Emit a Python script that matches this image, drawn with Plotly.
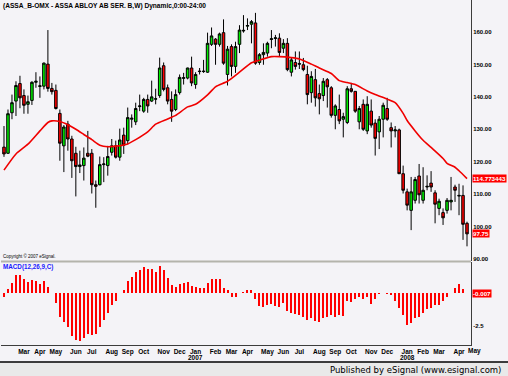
import pandas as pd
import plotly.graph_objects as go
from plotly.subplots import make_subplots

# ---------------- data ----------------
week_dates = pd.date_range("2006-01-30", periods=117, freq="7D")

opens = [124.5, 122.6, 135.1, 138.7, 144.1, 140.4, 137.7, 138.9, 144.5, 143.2,
         143.3, 150.1, 142.6, 142.0, 134.9, 124.9, 131.6, 127.0, 122.6, 118.5,
         118.8, 122.6, 122.6, 112.9, 112.9, 119.1, 118.8, 122.9, 124.9, 121.4,
         128.2, 126.5, 133.1, 132.3, 137.0, 135.6, 139.2, 138.7, 139.3, 140.4,
         149.6, 142.8, 139.2, 136.1, 141.3, 145.7, 145.8, 148.9, 143.8, 147.8,
         147.8, 147.6, 156.2, 157.8, 156.2, 159.8, 146.9, 155.5, 149.4, 156.2,
         160.3, 161.8, 162.4, 162.8, 150.6, 153.0, 153.5, 157.7, 158.0, 158.1,
         155.0, 156.5, 147.6, 150.6, 150.3, 149.9, 146.9, 141.3, 145.3, 141.0,
         140.4, 145.3, 142.8, 134.3, 136.1, 133.1, 132.1, 142.5, 141.7, 132.3,
         137.7, 129.5, 135.6, 131.9, 129.2, 133.1, 136.4, 130.5, 129.5, 129.8,
         116.3, 110.7, 105.0, 108.1, 115.6, 108.1, 112.2, 113.4, 110.4, 105.6,
         104.3, 105.0, 107.6, 112.2, 109.4, 109.6, 101.0]
highs = [131.0, 136.1, 140.7, 144.8, 146.5, 142.3, 140.4, 144.8, 147.6, 146.3,
         150.6, 160.6, 144.3, 143.8, 136.1, 131.3, 132.6, 128.0, 124.6, 123.4,
         124.4, 129.5, 123.9, 114.2, 121.6, 121.4, 124.9, 127.0, 126.5, 130.2,
         130.5, 136.7, 134.6, 138.2, 140.7, 139.7, 140.7, 145.0, 142.5, 152.1,
         150.6, 143.8, 141.7, 142.3, 146.9, 147.4, 149.0, 152.4, 147.6, 148.9,
         151.4, 159.8, 161.4, 158.1, 159.8, 163.9, 155.7, 156.2, 157.0, 162.1,
         165.2, 164.2, 163.7, 165.9, 153.5, 156.5, 157.0, 160.6, 159.1, 159.6,
         157.8, 158.1, 152.0, 154.0, 154.0, 152.0, 149.6, 147.9, 148.6, 143.8,
         145.8, 145.8, 143.3, 137.7, 140.7, 135.1, 143.3, 144.3, 141.7, 137.2,
         139.2, 140.2, 139.2, 133.1, 134.1, 138.2, 139.7, 132.1, 131.0, 130.2,
         118.8, 111.7, 115.3, 115.3, 119.3, 118.3, 115.8, 117.1, 111.2, 108.6,
         105.6, 108.8, 115.3, 112.9, 113.2, 112.7, 101.5]
lows = [121.5, 122.4, 133.1, 134.1, 136.5, 134.8, 134.8, 137.5, 142.8, 139.7,
        142.3, 141.6, 140.7, 136.1, 120.3, 116.8, 123.4, 115.0, 109.3, 116.5,
        114.2, 121.4, 110.2, 105.8, 112.7, 113.7, 115.7, 121.9, 121.0, 120.3,
        122.4, 125.4, 130.5, 131.3, 135.6, 135.1, 135.1, 138.4, 137.7, 139.7,
        141.7, 137.7, 132.3, 135.6, 140.7, 143.8, 145.4, 143.3, 142.5, 146.9,
        147.4, 147.4, 155.7, 149.9, 155.5, 149.9, 143.5, 146.3, 147.4, 153.5,
        159.8, 160.6, 156.5, 149.9, 149.9, 149.9, 152.4, 155.0, 155.5, 152.4,
        153.5, 147.9, 146.3, 148.4, 148.6, 147.9, 137.7, 138.2, 137.0, 134.6,
        138.7, 136.7, 133.6, 130.0, 131.6, 127.5, 131.6, 141.3, 135.1, 130.0,
        129.5, 128.5, 130.5, 121.9, 123.9, 127.5, 132.6, 124.4, 127.5, 116.3,
        110.2, 105.0, 98.9, 107.1, 107.1, 107.1, 111.2, 110.7, 101.0, 103.5,
        100.5, 104.0, 105.0, 107.6, 103.5, 95.9, 93.9]
closes = [122.4, 134.8, 138.2, 143.5, 139.7, 137.4, 138.5, 144.5, 144.8, 143.4,
          150.4, 142.6, 141.6, 136.4, 125.7, 130.7, 127.0, 120.3, 118.5, 119.0,
          121.1, 121.7, 112.9, 112.4, 119.1, 119.3, 121.6, 124.9, 121.4, 126.7,
          125.1, 133.6, 133.4, 136.4, 137.2, 139.2, 137.2, 140.0, 139.4, 148.9,
          142.3, 138.7, 135.6, 140.7, 146.0, 145.9, 148.9, 144.3, 146.9, 147.9,
          147.9, 156.5, 158.8, 156.2, 159.4, 150.4, 154.7, 149.4, 155.5, 160.6,
          160.5, 162.0, 163.2, 150.4, 153.0, 153.7, 156.5, 157.9, 158.2, 153.7,
          156.5, 148.4, 151.4, 149.4, 150.1, 148.4, 140.7, 146.3, 139.7, 139.4,
          144.8, 143.1, 134.3, 137.2, 132.6, 133.9, 142.5, 141.7, 135.6, 136.4,
          130.0, 137.7, 131.3, 127.2, 133.1, 137.4, 133.1, 129.5, 129.8, 116.3,
          111.2, 106.6, 110.7, 114.5, 109.8, 111.2, 112.4, 112.2, 106.9, 107.8,
          102.7, 108.1, 108.1, 111.2, 109.6, 100.7, 97.75]

# moving average at selected weekly bars
ma_bar_index = [0, 3, 6, 9, 11, 12, 14, 16, 18, 20, 22, 24, 26, 28, 31, 33, 36, 38,
                41, 43, 46, 48, 51, 53, 56, 59, 62, 64, 67, 69, 72, 74, 77, 79, 82,
                84, 86, 88, 91, 93, 96, 98, 100, 101, 103, 105, 107, 110, 111, 113,
                114, 116]
ma_values = [117.4, 122.4, 125.4, 129.5, 132.1, 132.6, 132.4, 131.4, 130.0, 128.4,
             126.8, 125.1, 124.6, 124.8, 125.5, 126.8, 129.2, 131.6, 133.2, 134.3,
             136.9, 137.7, 140.6, 143.1, 144.8, 147.6, 150.5, 151.3, 152.4, 152.4,
             152.1, 151.7, 150.1, 148.9, 147.2, 145.0, 144.4, 143.8, 141.8, 140.7,
             139.3, 138.2, 134.9, 132.7, 129.5, 126.6, 124.4, 121.0, 119.5, 118.3,
             117.2, 114.773443]

macd_hist = [-0.26, 0.3, 0.8, 1.4, 1.4, 1.1, 0.85, 1.0, 0.95, 0.75,
             0.95, 0.46, 0.05, -0.72, -1.8, -2.18, -2.56, -3.28, -3.59, -3.64,
             -3.46, -3.13, -3.2, -3.1, -2.56, -2.05, -1.49, -0.9, -0.6, 0.05,
             0.25, 0.95, 1.28, 1.67, 1.8, 2.0, 1.85, 1.85, 1.67, 2.13,
             1.8, 1.2, 0.64, 0.51, 0.72, 0.77, 0.9, 0.56, 0.51, 0.44,
             0.38, 0.82, 1.1, 1.08, 1.1, 0.44, 0.26, -0.3, -0.3, 0.05,
             0.13, 0.26, 0.26, -0.46, -0.97, -1.03, -0.9, -0.82, -0.97, -1.03,
             -0.77, -1.36, -1.54, -1.62, -1.67, -1.8, -2.05, -1.92, -2.13, -2.18,
             -1.92, -1.8, -1.67, -1.8, -1.67, -1.74, -0.56, -0.64, -0.46, -0.26,
             -0.46, -0.31, -0.82, -0.46, -0.05, 0.03, -0.03, -0.1, -0.6, -1.1,
             -1.67, -2.44, -2.26, -1.92, -1.8, -1.54, -1.2, -1.1, -0.9, -0.9,
             -0.6, -0.3, 0.02, 0.44, 0.72, 0.3, -0.007]

tick_months = ["2006-03", "2006-04", "2006-05", "2006-06", "2006-07", "2006-08",
               "2006-09", "2006-10", "2006-11", "2006-12", "2007-01", "2007-02",
               "2007-03", "2007-04", "2007-05", "2007-06", "2007-07", "2007-08",
               "2007-09", "2007-10", "2007-11", "2007-12", "2008-01", "2008-02",
               "2008-03", "2008-04"]
extra_month = "2008-05"
price_ticks = [90, 100, 110, 120, 130, 140, 150, 160]
macd_ticks = [-2.5]

TITLE = "(ASSA_B-OMX - ASSA ABLOY AB SER. B,W) Dynamic,0:00-24:00"
MACD_TITLE = "MACD(12,26,9,C)"
COPYRIGHT = "Copyright © 2007 eSignal."
FOOTER = "Published by eSignal (www.esignal.com)"

# ---------------- styling ----------------
W, H = 508, 376
ML, MR, MT, MB = 1, 37, 0, 31
PW, PH = W - ML - MR, H - MT - MB
BG = "#F4F3F7"
AXIS = "#3C3C3C"
LBL_FONT = "Liberation Sans, Arial, sans-serif"

def py(pix):  # pixel row (from top of figure) -> paper y
    return (PH + MT - pix) / PH

def px(pix):
    return (pix - ML) / PW

week = pd.Timedelta(days=7)
x0 = week_dates[0] - week * 0.75
x1 = week_dates[-1] + week

def first_bar_of(month):
    m = pd.Period(month, "M")
    for d in week_dates:
        if d.to_period("M") == m:
            return d
    return m.start_time + pd.Timedelta(days=(7 - m.start_time.weekday()) % 7)

tick_vals = [first_bar_of(m) for m in tick_months]
tick_text = ["<b>%s</b>" % pd.Period(m, "M").strftime("%b") for m in tick_months]

fig = make_subplots(rows=2, cols=1, shared_xaxes=True, vertical_spacing=0.0)

fig.add_trace(go.Candlestick(
    x=week_dates, open=opens, high=highs, low=lows, close=closes,
    increasing=dict(fillcolor="#00EE00", line=dict(color="#000000", width=1)),
    decreasing=dict(fillcolor="#FF0000", line=dict(color="#000000", width=1)),
    whiskerwidth=0, showlegend=False, hoverinfo="skip"), row=1, col=1)

fig.add_trace(go.Scatter(
    x=[week_dates[i] for i in ma_bar_index], y=ma_values, mode="lines",
    line=dict(color="#F00000", width=1.6, shape="spline", smoothing=0.6),
    showlegend=False, hoverinfo="skip"), row=1, col=1)

fig.add_trace(go.Bar(
    x=week_dates, y=macd_hist, marker=dict(color="#FF0000", line=dict(width=0)),
    width=3.5 * 86400000, showlegend=False, hoverinfo="skip"), row=2, col=1)

top_split = py(261)
bot_split = py(262)

TF = dict(family=LBL_FONT, size=6, color="#000000")

fig.update_layout(
    width=W, height=H,
    margin=dict(l=ML, r=MR, t=MT, b=MB, pad=0, autoexpand=False),
    paper_bgcolor=BG, plot_bgcolor=BG, showlegend=False, bargap=0, boxgap=0.1,
    font=dict(family=LBL_FONT, size=7, color="#000000"),
    xaxis=dict(domain=[0, 1], range=[x0, x1], type="date", showticklabels=False,
               showgrid=False, zeroline=False, rangeslider=dict(visible=False),
               showline=False, ticks="", automargin=False),
    xaxis2=dict(domain=[0, 1], range=[x0, x1], type="date", showgrid=False,
                zeroline=False, showline=True, linecolor=AXIS, linewidth=1,
                tickmode="array", tickvals=tick_vals, ticktext=tick_text,
                tickfont=dict(family=LBL_FONT, size=6.5, color="#000000"),
                ticks="", tickangle=0, automargin=False),
    yaxis=dict(domain=[top_split, 1], range=[89.38, 169.87], side="right",
               showgrid=False, zeroline=False, showline=True, linecolor=AXIS,
               tickmode="array", tickvals=price_ticks,
               ticktext=["<b>%.2f</b>" % v for v in price_ticks],
               tickfont=TF, ticks="", automargin=False),
    yaxis2=dict(domain=[0, bot_split], range=[-3.98, 2.41], side="right",
                showgrid=False, zeroline=False, showline=True, linecolor=AXIS,
                tickmode="array", tickvals=macd_ticks,
                ticktext=["<b>%g</b>" % v for v in macd_ticks],
                tickfont=TF, ticks="", automargin=False),
)

shapes = [
    # panel separator
    dict(type="line", xref="paper", yref="paper", x0=0, x1=1,
         y0=py(261.5), y1=py(261.5), line=dict(color="#B4B4AC", width=2)),
    # footer band
    dict(type="rect", xref="paper", yref="paper", x0=px(0), x1=px(W),
         y0=py(H), y1=py(362), fillcolor="#E9E9E9", line=dict(width=0), layer="below"),
    dict(type="line", xref="paper", yref="paper", x0=px(0), x1=px(W),
         y0=py(362), y1=py(362), line=dict(color="#000000", width=1.5)),
]
fig.update_layout(shapes=shapes)

ann = []
ann.append(dict(text="<b>%s</b>" % TITLE, xref="paper", yref="paper", x=px(1), y=py(6),
                xanchor="left", yanchor="middle", showarrow=False,
                font=dict(family=LBL_FONT, size=6.6, color="#000000")))
ann.append(dict(text=COPYRIGHT, xref="paper", yref="paper", x=px(1), y=py(256),
                xanchor="left", yanchor="middle", showarrow=False,
                font=dict(family=LBL_FONT, size=4.5, color="#000000")))
ann.append(dict(text="<b>%s</b>" % MACD_TITLE, xref="paper", yref="paper", x=px(1), y=py(266.5),
                xanchor="left", yanchor="middle", showarrow=False,
                font=dict(family=LBL_FONT, size=6.3, color="#1A1AFF")))
# year labels under January ticks
for m in tick_months:
    if m.endswith("-01"):
        ann.append(dict(text="<b>%s</b>" % m[:4], xref="x2", yref="paper",
                        x=first_bar_of(m), y=py(357.5), xanchor="center", yanchor="middle",
                        showarrow=False, font=dict(family=LBL_FONT, size=6.5, color="#000000")))
# month label just beyond the right edge
d_extra = first_bar_of(extra_month)
ann.append(dict(text="<b>%s</b>" % pd.Period(extra_month, "M").strftime("%b"),
                xref="paper", yref="paper",
                x=(d_extra - x0) / (x1 - x0), y=py(350.5), xanchor="center", yanchor="middle",
                showarrow=False, font=dict(family=LBL_FONT, size=6.5, color="#000000")))
# last-value flags
FLAG = dict(family=LBL_FONT, size=6.2, color="#FFFFFF")
ann.append(dict(text="<b>%s</b>" % ("%.6f" % ma_values[-1]), xref="paper", yref="y",
                x=1, y=ma_values[-1], xanchor="left", yanchor="middle", xshift=1,
                showarrow=False, bgcolor="#FF0000", borderpad=0, font=FLAG))
ann.append(dict(text="<b>%.2f</b>" % closes[-1], xref="paper", yref="y",
                x=1, y=closes[-1], xanchor="left", yanchor="middle", xshift=1,
                showarrow=False, bgcolor="#FF0000", borderpad=0, font=FLAG))
ann.append(dict(text="<b>%.3f</b>" % macd_hist[-1], xref="paper", yref="y2",
                x=1, y=0, xanchor="left", yanchor="middle", xshift=1,
                showarrow=False, bgcolor="#FF0000", borderpad=0, font=FLAG))
# footer
ann.append(dict(text=FOOTER, xref="paper", yref="paper", x=px(503), y=py(369.5),
                xanchor="right", yanchor="middle", showarrow=False,
                font=dict(family="DejaVu Sans, Verdana, sans-serif", size=8.5, color="#000000")))
fig.update_layout(annotations=ann)

fig.write_html(
    "out.html",
    config={"displayModeBar": False, "staticPlot": True},
    post_script="document.body.style.margin='0px';document.body.style.overflow='hidden';",
)
